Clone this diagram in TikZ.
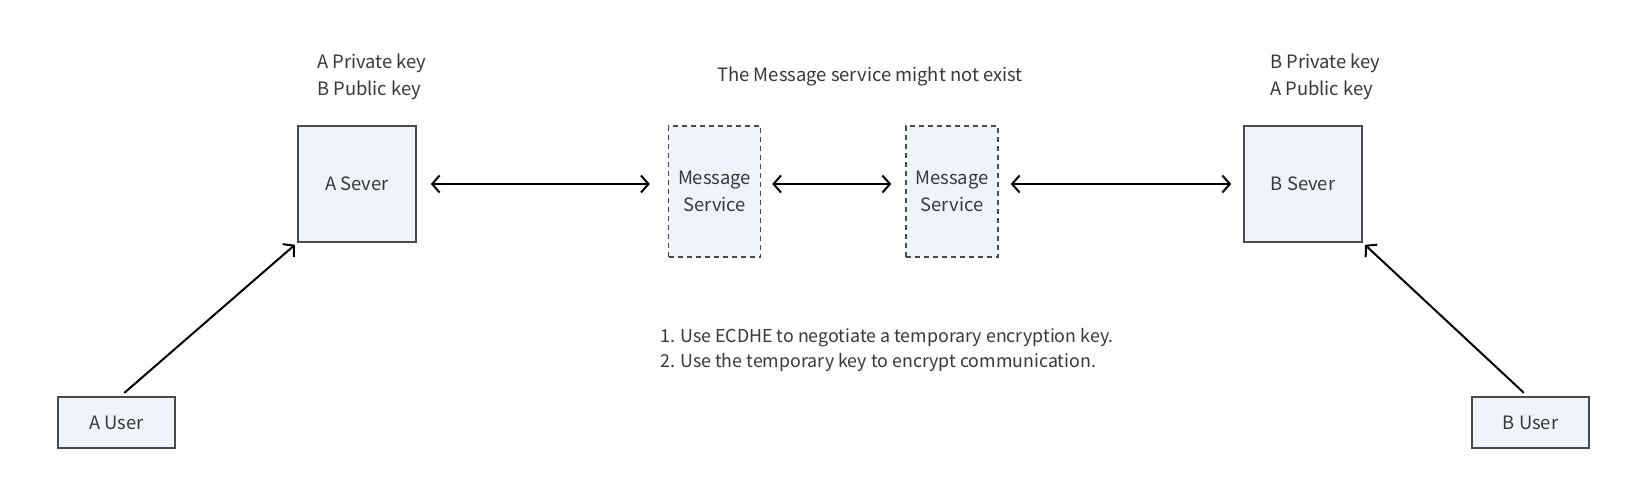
\documentclass[tikz,border=0pt]{standalone}
\usepackage{fontspec}
\setmainfont{Noto Sans CJK SC}
\usetikzlibrary{arrows.meta}
\definecolor{boxfill}{HTML}{EFF3FC}
\definecolor{boxline}{HTML}{4A4A4A}
\definecolor{txt}{HTML}{383838}
\tikzset{
  srvbox/.style={draw=boxline, fill=boxfill, line width=1.6pt, minimum width=118pt, minimum height=116pt, inner sep=0pt},
  msgbox/.style={draw=boxline, fill=boxfill, line width=1.4pt, dash pattern=on 5pt off 4pt, minimum width=92pt, minimum height=131pt, align=center, inner sep=0pt},
  usrbox/.style={draw=boxline, fill=boxfill, line width=1.6pt, minimum width=117pt, minimum height=51pt, inner sep=0pt},
  lbl/.style={align=left, inner sep=0pt},
  link/.style={line width=2pt, {Straight Barb[length=7.5pt,width=17pt]}-{Straight Barb[length=7.5pt,width=17pt]}},
  uplink/.style={line width=2pt, -{Straight Barb[length=7.5pt,width=17pt]}}
}
\begin{document}
\begin{tikzpicture}[x=1pt, y=-1pt, every node/.style={text=txt, font=\fontsize{18.4}{26.5}\selectfont}]
    \useasboundingbox[fill=white] (0,0) rectangle (1646,498);
    \node[srvbox] (asrv) at (357,184) {A Sever};
    \node[msgbox] (msg1) at (714.5,191.5) {Message\\Service};
    \node[msgbox] (msg2) at (952,191.5) {Message\\Service};
    \node[srvbox] (bsrv) at (1303,184) {B Sever};
    \node[usrbox] (ausr) at (116.5,422.5) {A User};
    \node[usrbox] (busr) at (1530.5,422.5) {B User};
    \node[lbl, anchor=west] (akeys) at (317,77) {A Private key\\B Public key};
    \node[lbl, anchor=west] (bkeys) at (1270,77) {B Private key\\A Public key};
    \node[inner sep=0pt] (maybe) at (870,76) {The Message service might not exist};
    \node[lbl, anchor=west, font=\fontsize{17.8}{24.5}\selectfont] (steps) at (660,350)
        {1. Use ECDHE to negotiate a temporary encryption key.\\2. Use the temporary key to encrypt communication.};
    \draw[link, shorten <=14pt, shorten >=18pt] (asrv.east) -- (asrv.east -| msg1.west);
    \draw[link, shorten <=11pt, shorten >=14pt] (msg1.east |- asrv.east) -- (msg2.west |- asrv.east);
    \draw[link, shorten <=12pt, shorten >=12pt] (msg2.east |- bsrv.west) -- (bsrv.west);
    \draw[uplink, shorten <=5pt, shorten >=3pt] ([xshift=4pt]ausr.north) -- (asrv.south west);
    \draw[uplink, shorten <=5pt, shorten >=3pt] ([xshift=-3pt]busr.north) -- (bsrv.south east);
\end{tikzpicture}
\end{document}
